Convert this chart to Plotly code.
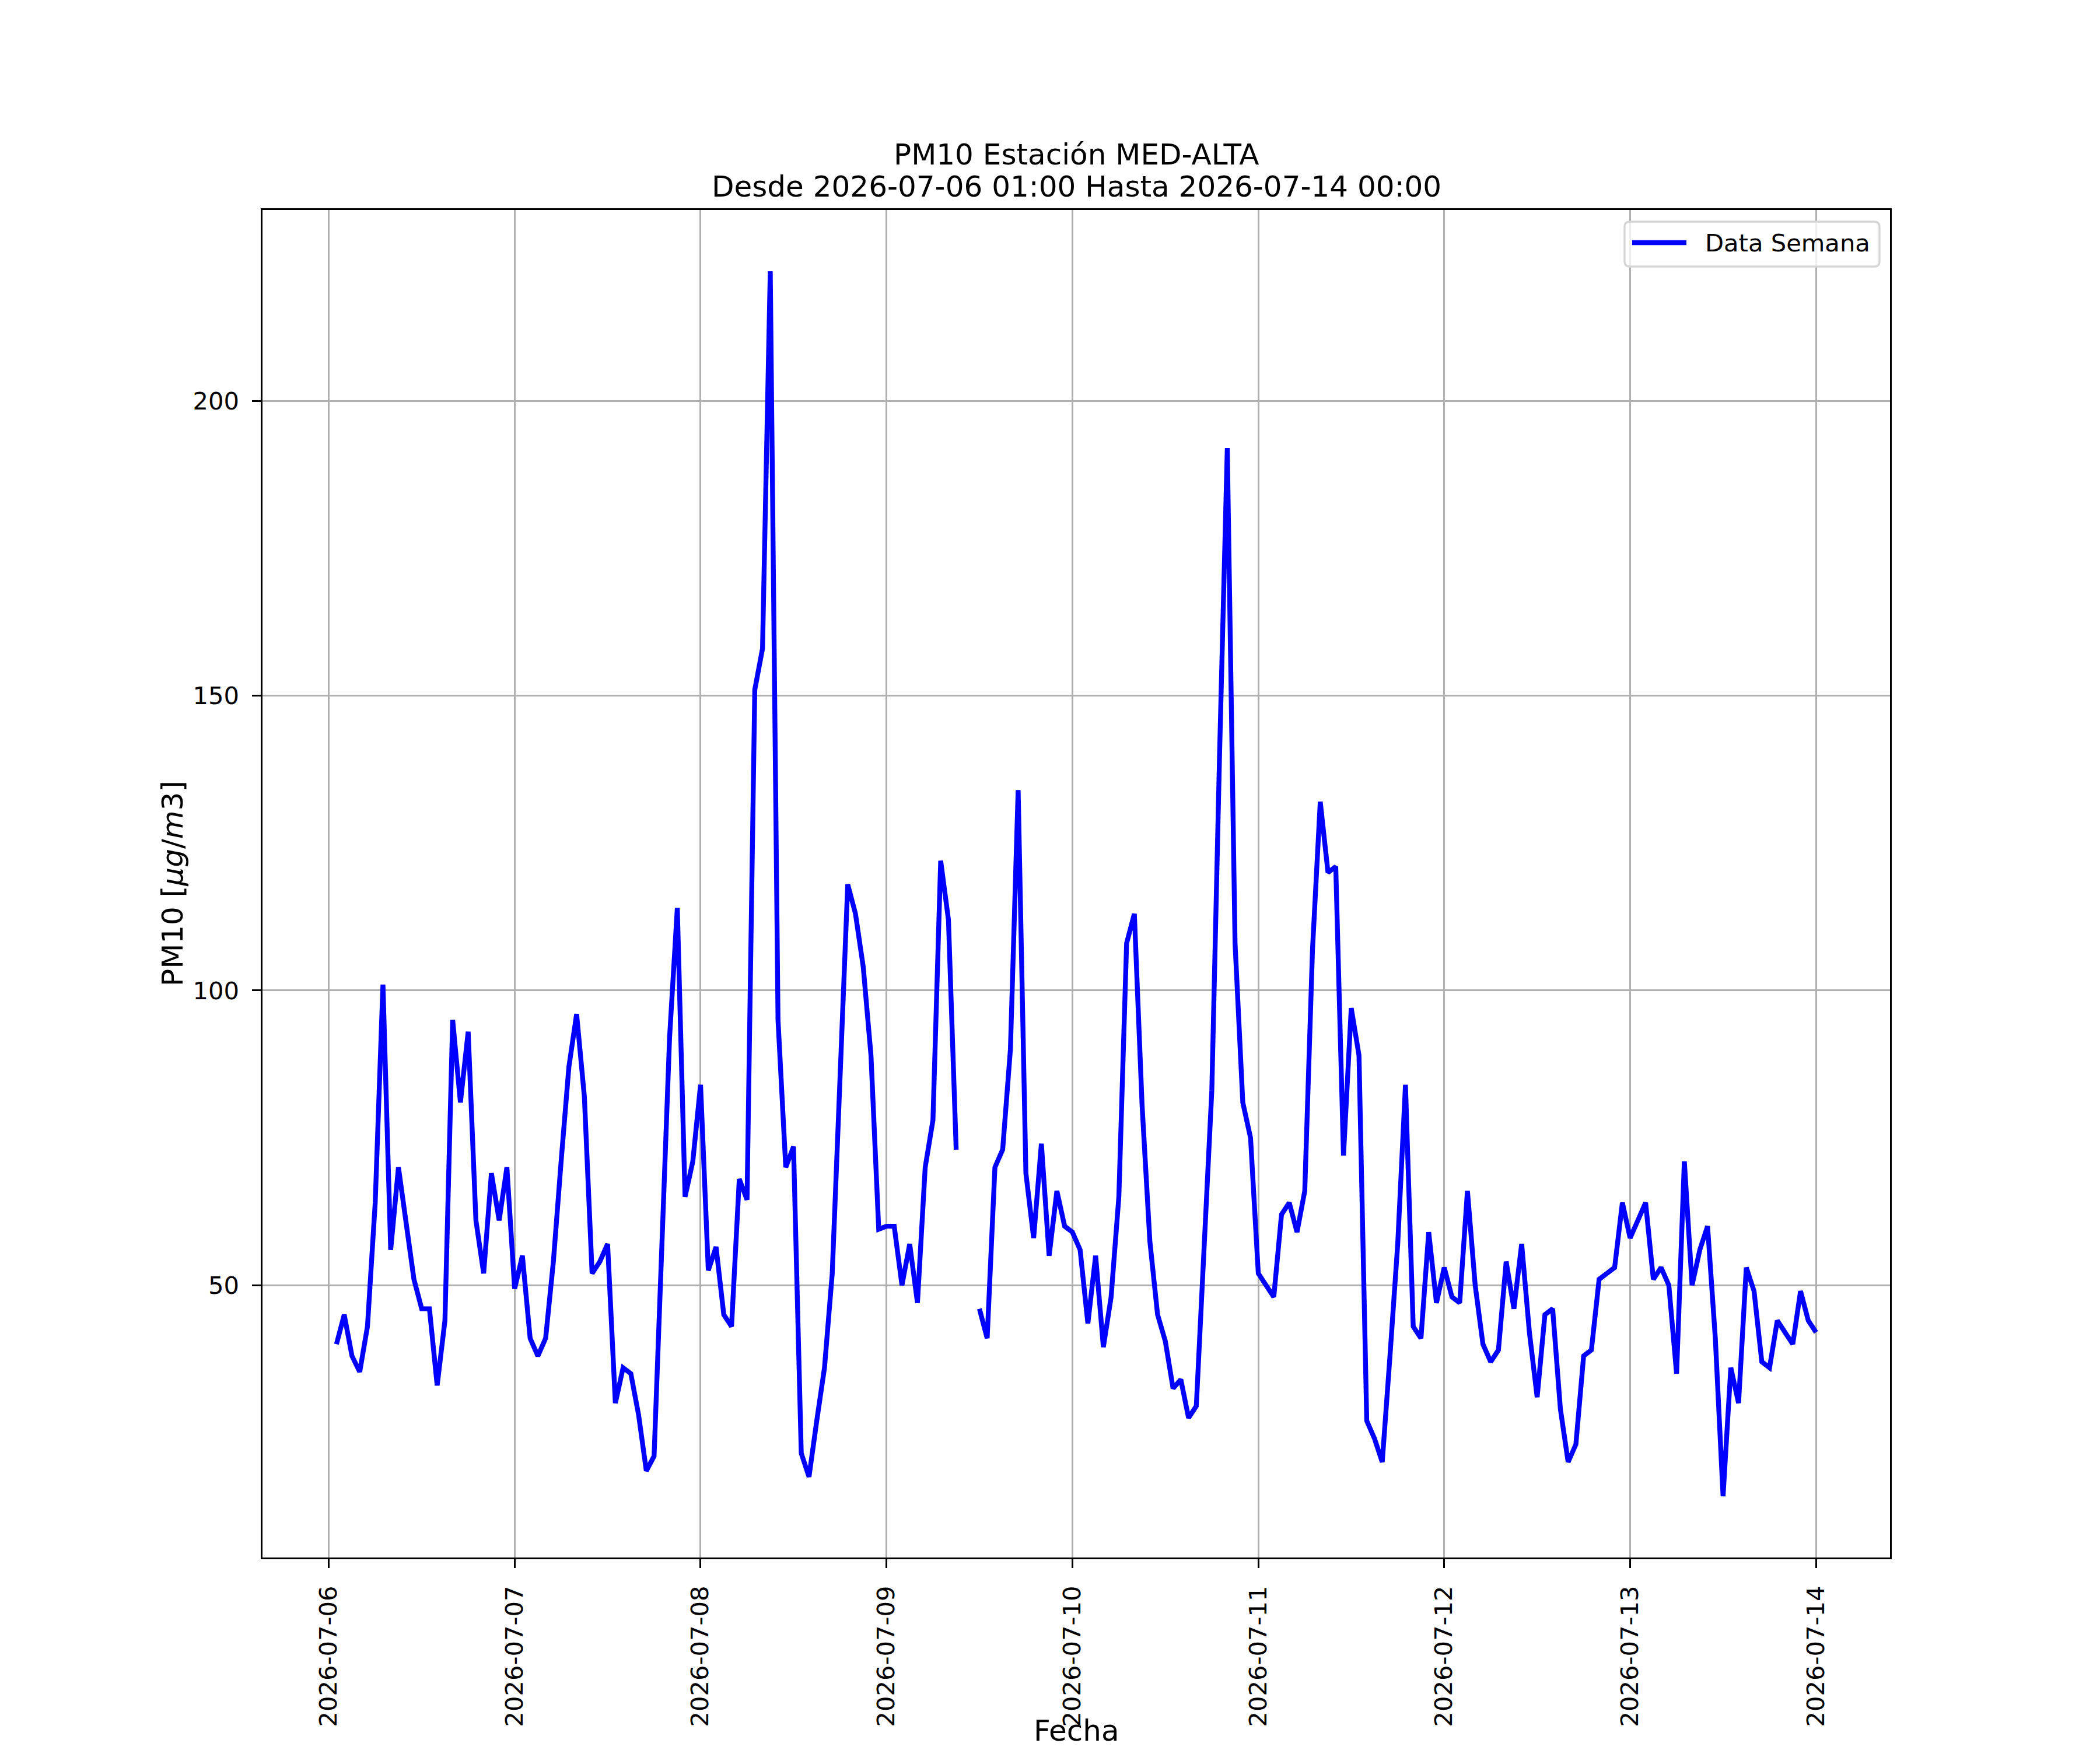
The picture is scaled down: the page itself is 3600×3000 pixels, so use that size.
import pandas as pd
import plotly.graph_objects as go

# ---- data (hourly PM10) ----
start_time = "2026-07-06 01:00"
end_time = "2026-07-14 00:00"
series_name = "Data Semana"

day1 = [40, 45, 38, 35.3, 43, 64, 101, 56, 70, 60, 51, 46, 46, 33, 44, 95, 81, 93, 61, 52, 69, 61, 70, 49.4]
day2 = [55, 41, 38, 41, 54, 71, 87, 96, 82, 52, 54, 57, 30, 36, 35, 28, 18.5, 21, 57, 92, 114, 65, 71, 84]
day3 = [52.5, 56.5, 45, 43, 68, 64.5, 151, 158, 222, 95, 70, 73.5, 21.5, 17.5, 27, 36, 52, 84, 118, 113, 104, 89, 59.5, 60]
day4 = [60, 50, 57, 47, 70, 78, 122, 112, 73, None, None, 46, 41, 70, 73, 90, 134, 69, 58, 74, 55, 66, 60, 59]
day5 = [56, 43.5, 55, 39.5, 48, 65, 108, 113, 80.5, 57.5, 45, 40.5, 32.5, 34, 27.5, 29.5, 56, 83, 140, 192, 108, 81, 75, 52]
day6 = [50, 48, 62, 64, 59, 66, 107, 132, 120, 121, 72, 97, 89, 27, 24, 20, 38, 57, 84, 43, 41, 59, 47, 53]
day7 = [48, 47, 66, 50, 40, 37, 39, 54, 46, 57, 42, 31, 45, 46, 29, 20, 23, 38, 39, 51, 52, 53, 64, 58]
day8 = [61, 64, 51, 53, 50, 35, 71, 50, 56, 60, 41, 14.2, 36, 30, 53, 49, 37, 36, 44, 42, 40, 49, 44, 42]

pm10 = day1 + day2 + day3 + day4 + day5 + day6 + day7 + day8
times = pd.date_range(start_time, end_time, freq="h")

tick_dates = ["2026-07-06", "2026-07-07", "2026-07-08", "2026-07-09", "2026-07-10",
              "2026-07-11", "2026-07-12", "2026-07-13", "2026-07-14"]
y_ticks = [50, 100, 150, 200]

title_line1 = "PM10 Estación MED-ALTA"
title_line2 = "Desde 2026-07-06 01:00 Hasta 2026-07-14 00:00"
x_title = "Fecha"
y_title = "PM10 [<i>μg</i>/<i>m</i>3]"

# ---- geometry (matplotlib 12x10in @300dpi look) ----
OFF = 8                      # page body margin of the html page
W, H = 3600 - OFF, 3000 - OFF
L, R, T, B = 450, 3240, 360, 2670   # target plot box in screen pixels
PT = 300 / 72.0
LINE_BLUE = "#0000ff"

vals = [v for v in pm10 if v is not None]
vmin, vmax = min(vals), max(vals)
ypad = 0.05 * (vmax - vmin)
t0, t1 = times[0], times[-1]
xpad = 0.05 * (t1 - t0)

fig = go.Figure()
fig.add_trace(go.Scatter(
    x=times, y=pm10, mode="lines", name=series_name,
    line=dict(color=LINE_BLUE, width=2 * PT),
    connectgaps=False, showlegend=False,
))

FONT = "DejaVu Sans"
tick_font = dict(family=FONT, size=10 * PT, color="black")
axis_common = dict(
    showline=True, linecolor="black", linewidth=0.8 * PT, mirror=True,
    showgrid=True, gridcolor="#b0b0b0", gridwidth=0.8 * PT,
    zeroline=False, ticks="outside", ticklen=3.5 * PT, tickwidth=0.8 * PT,
    tickcolor="black", tickfont=tick_font, ticklabelstandoff=int(3.5 * PT),
)

fig.update_xaxes(
    range=[t0 - xpad, t1 + xpad], tickvals=tick_dates, ticktext=tick_dates,
    tickangle=-90, **axis_common,
)
fig.update_yaxes(
    range=[vmin - ypad, vmax + ypad], tickvals=y_ticks,
    ticktext=[str(v) for v in y_ticks], **axis_common,
)

plot_h = B - T
plot_w = R - L
def py(px):
    return (B - px) / plot_h
def pxx(px):
    return (px - L) / plot_w

ann = []
ann.append(dict(text=title_line1, x=0.5, y=py(265), xref="paper", yref="paper",
                xanchor="center", yanchor="middle", showarrow=False,
                font=dict(family=FONT, size=12 * PT, color="black")))
ann.append(dict(text=title_line2, x=0.5, y=py(320), xref="paper", yref="paper",
                xanchor="center", yanchor="middle", showarrow=False,
                font=dict(family=FONT, size=12 * PT, color="black")))
ann.append(dict(text=x_title, x=0.5, y=py(2998), xref="paper", yref="paper",
                xanchor="center", yanchor="bottom", showarrow=False,
                font=dict(family=FONT, size=12 * PT, color="black")))
ann.append(dict(text=y_title, x=pxx(296), y=0.5, xref="paper", yref="paper",
                xanchor="center", yanchor="middle", showarrow=False, textangle=-90,
                font=dict(family=FONT, size=12 * PT, color="black")))

# ---- legend box (matplotlib style: rounded, translucent) ----
bx0, bx1, by0, by1 = 2785, 3222, 380, 457
rad = 9
X0, X1 = pxx(bx0), pxx(bx1)
Y0, Y1 = py(by1), py(by0)
rx, ry = rad / plot_w, rad / plot_h
legend_path = (
    f"M {X0 + rx},{Y0} L {X1 - rx},{Y0} Q {X1},{Y0} {X1},{Y0 + ry} "
    f"L {X1},{Y1 - ry} Q {X1},{Y1} {X1 - rx},{Y1} "
    f"L {X0 + rx},{Y1} Q {X0},{Y1} {X0},{Y1 - ry} "
    f"L {X0},{Y0 + ry} Q {X0},{Y0} {X0 + rx},{Y0} Z"
)
shapes = [
    dict(type="path", path=legend_path, xref="paper", yref="paper",
         fillcolor="rgba(255,255,255,0.8)", line=dict(color="#d5d5d5", width=0.8 * PT),
         layer="above"),
    dict(type="line", xref="paper", yref="paper",
         x0=pxx(2798), x1=pxx(2891), y0=py(416), y1=py(416),
         line=dict(color=LINE_BLUE, width=2 * PT), layer="above"),
]
ann.append(dict(text=series_name, x=pxx(2921), y=py(417), xref="paper", yref="paper",
                xanchor="left", yanchor="middle", showarrow=False,
                font=dict(family=FONT, size=10 * PT, color="black")))

fig.update_layout(
    width=W, height=H,
    margin=dict(l=L - OFF, r=(W + OFF) - R, t=T - OFF, b=(H + OFF) - B, pad=0),
    paper_bgcolor="white", plot_bgcolor="white",
    font=dict(family=FONT, size=10 * PT, color="black"),
    annotations=ann, shapes=shapes, showlegend=False,
)

fig.write_html("out.html")
